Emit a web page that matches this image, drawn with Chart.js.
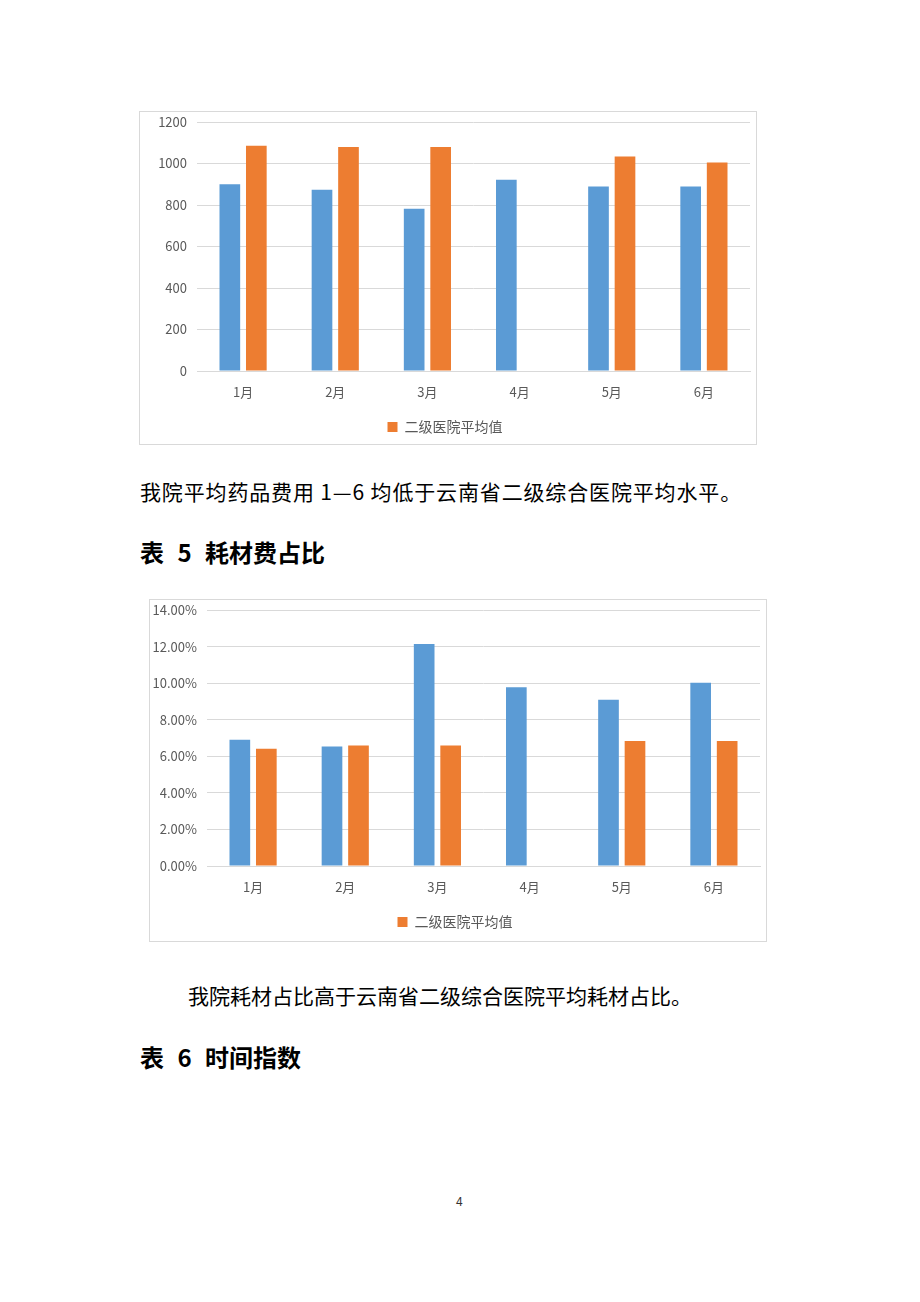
<!DOCTYPE html>
<html>
<head>
<meta charset="utf-8">
<script src="https://cdn.jsdelivr.net/npm/chart.js@4"></script>
<style>
  body { margin: 0; background: #fff; width: 920px; height: 1302px; position: relative; font-family: "Noto Sans CJK SC", sans-serif; }
  .caja { position: absolute; border: 1px solid #d9d9d9; box-sizing: border-box; }
  .caja canvas { display: block; }
  .texto { position: absolute; font-size: 21px; line-height: 30px; color: #000; white-space: nowrap; }
  .titulo { position: absolute; font-size: 24px; line-height: 34px; font-weight: bold; color: #000; white-space: nowrap; word-spacing: 8px; }
  .pagina { position: absolute; font-size: 12px; color: #333; }
</style>
</head>
<body>

<div class="caja" style="left:139px; top:111px; width:618px; height:334px;">
  <canvas id="grafica1" width="616" height="332"></canvas>
</div>

<div class="texto" style="left:140px; top:476px; letter-spacing:0.85px;">我院平均药品费用 1—6 均低于云南省二级综合医院平均水平。</div>
<div class="titulo" style="left:140px; top:535px;">表 5 耗材费占比</div>

<div class="caja" style="left:149px; top:599px; width:618px; height:343px;">
  <canvas id="grafica2" width="616" height="341"></canvas>
</div>

<div class="texto" style="left:188px; top:980px;">我院耗材占比高于云南省二级综合医院平均耗材占比。</div>
<div class="titulo" style="left:140px; top:1040px;">表 6 时间指数</div>

<div class="pagina" style="left:456px; top:1192px;">4</div>

<script>
// Datos de las gráficas
var meses = ['1月', '2月', '3月', '4月', '5月', '6月'];

// Tabla 4: costo promedio de medicamentos
var costoNuestro = [900, 873, 782, 922, 889, 889];
var costoPromedio = [1085, 1079, 1079, null, 1034, 1005];
var ticksCosto = [0, 200, 400, 600, 800, 1000, 1200];

// Tabla 5: proporción de consumibles (%)
var consumoNuestro = [6.90, 6.53, 12.14, 9.78, 9.09, 10.02];
var consumoPromedio = [6.41, 6.59, 6.59, null, 6.84, 6.84];
var ticksConsumo = [0, 2, 4, 6, 8, 10, 12, 14];

var etiquetaPromedio = '二级医院平均值';
var azul = '#5B9BD5';
var naranja = '#ED7D31';
var gris = '#595959';

// Función para crear una gráfica de barras con el estilo de Excel
function dibujarGrafica(id, serieA, serieB, ticks, formato, relleno) {
  var ctx = document.getElementById(id).getContext('2d');
  return new Chart(ctx, {
    type: 'bar',
    data: {
      labels: meses,
      datasets: [{
        label: '我院',
        data: serieA,
        backgroundColor: azul,
        categoryPercentage: 0.575,
        barPercentage: 0.78
      }, {
        label: etiquetaPromedio,
        data: serieB,
        backgroundColor: naranja,
        categoryPercentage: 0.575,
        barPercentage: 0.78
      }]
    },
    options: {
      responsive: false,
      animation: false,
      layout: { padding: relleno },
      plugins: {
        tooltip: { enabled: false },
        legend: {
          position: 'bottom',
          labels: {
            boxWidth: 10,
            boxHeight: 10,
            color: gris,
            font: { family: '"Noto Sans CJK SC", sans-serif', size: 14 },
            filter: function(item) { return item.datasetIndex === 1; }
          }
        }
      },
      scales: {
        x: {
          grid: { display: false },
          border: { color: '#d9d9d9' },
          ticks: { color: gris, padding: 5, font: { family: '"Noto Sans CJK SC", sans-serif', size: 13 } },
          afterFit: function(s) { s.height = 39; }
        },
        y: {
          min: ticks[0],
          max: ticks[ticks.length - 1],
          afterBuildTicks: function(s) { s.ticks = ticks.map(function(v) { return { value: v }; }); },
          grid: { color: '#d9d9d9', drawTicks: false },
          border: { display: false },
          ticks: {
            color: gris,
            padding: 10,
            font: { family: '"Noto Sans CJK SC", sans-serif', size: 13 },
            callback: formato
          },
          afterFit: function(s) {
            s.width = 57;
            s.paddingTop = 0;
            s.paddingBottom = 0;
          }
        }
      }
    }
  });
}

// Dibujar las dos gráficas al cargar la página
dibujarGrafica('grafica1', costoNuestro, costoPromedio, ticksCosto, function(v) { return v; },
  { top: 10, right: 6, bottom: 0, left: 0 });
dibujarGrafica('grafica2', consumoNuestro, consumoPromedio, ticksConsumo, function(v) { return v.toFixed(2) + '%'; },
  { top: 10, right: 6, bottom: 2, left: 0 });
</script>
</body>
</html>
